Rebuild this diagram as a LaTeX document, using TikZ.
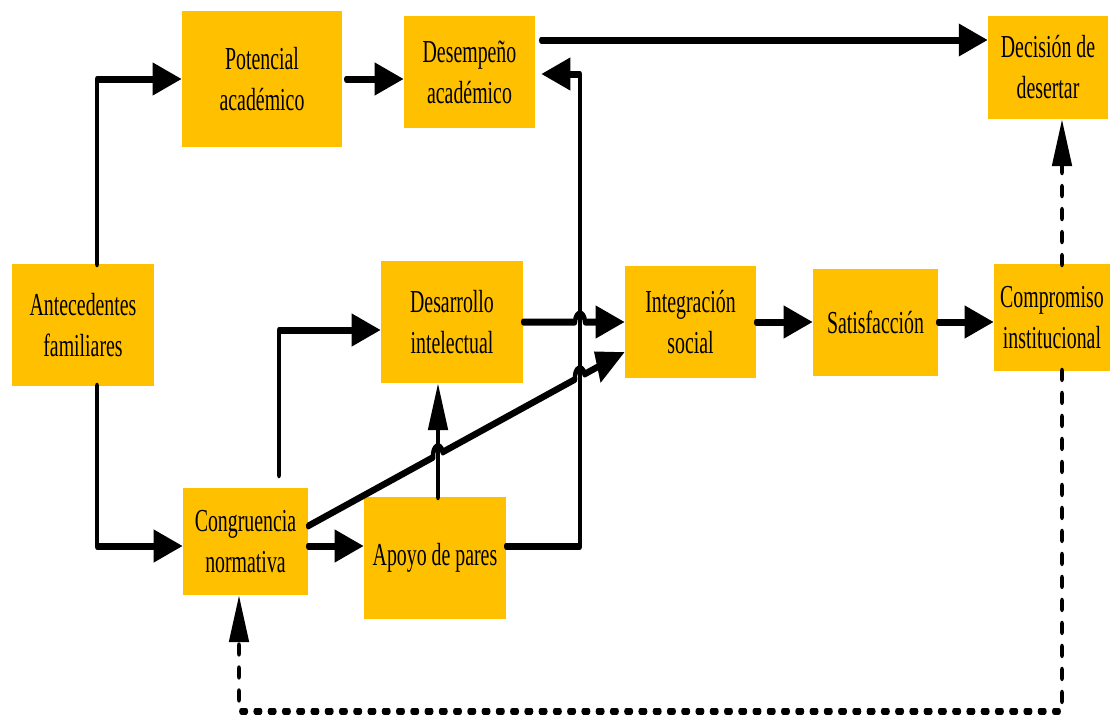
\documentclass[tikz,border=0pt]{standalone}
\usepackage{fontspec}
\setmainfont{Liberation Serif}
\usetikzlibrary{arrows.meta,calc}
\definecolor{boxgold}{RGB}{255,192,0}
\tikzset{
  box/.style={fill=boxgold, draw=none, align=center, inner sep=0pt,
              font=\fontsize{32}{41}\selectfont},
  plainline/.style={line width=7pt, line cap=round, line join=round},
  conn/.style={plainline, -{Triangle[length=47pt,width=31pt]}},
  dashconn/.style={conn, dash pattern=on 7.5pt off 15.5pt},
}
\begin{document}
\begin{tikzpicture}
\useasboundingbox (0pt,0pt) rectangle (1112pt,-715pt);
\begin{scope}[transform canvas={xscale=0.62}, x={(1.6129pt,0pt)}, y={(0pt,-1pt)}]
% boxes
\node[box, minimum width=229.0pt, minimum height=122pt] (ant) at (83,325) {Antecedentes\\familiares};
\node[box, minimum width=258.1pt, minimum height=136pt] (pot) at (262,79) {Potencial\\académico};
\node[box, minimum width=211.3pt, minimum height=112pt] (des) at (469.5,72) {Desempeño\\académico};
\node[box, minimum width=193.5pt, minimum height=103pt] (dec) at (1048,67.5) {Decisión de\\desertar};
\node[box, minimum width=229.0pt, minimum height=122pt] (dev) at (452,322) {Desarrollo\\intelectual};
\node[box, minimum width=211.3pt, minimum height=112pt] (int) at (690.5,322) {Integración\\social};
\node[box, minimum width=201.6pt, minimum height=107pt] (sat) at (875.5,322) {Satisfacción};
\node[box, minimum width=187.1pt, minimum height=107pt] (com) at (1052,317.5) {Compromiso\\institucional};
\node[box, minimum width=201.6pt, minimum height=107pt] (con) at (245.5,541.5) {Congruencia\\normativa};
\node[box, minimum width=229.0pt, minimum height=122pt] (apo) at (435,558) {Apoyo de pares};
% helper coordinates
\coordinate (xA) at (97,0);
\coordinate (y40) at (0,40);
\coordinate (y74) at (0,74);
\coordinate (x580) at (580,0);
\coordinate (y546) at (0,546);
\coordinate (x279) at (279,0);
\coordinate (y330) at (0,330);
\coordinate (x438) at (438,0);
\coordinate (x1062) at (1062,0);
\coordinate (y711) at (0,711);
\coordinate (x239) at (239,0);
\coordinate (h0) at (x580 |- dev.east);
\coordinate (ds) at ([yshift=15.5pt]con.east);
\coordinate (de) at ([yshift=-30pt]int.west);
\coordinate (cx1) at ($(ds)!0.4101!(de)$);
\coordinate (cx2) at ($(ds)!0.8580!(de)$);
% solid connectors
\draw[conn] (ant.north -| xA) |- (pot.west);
\draw[conn, shorten <=6.5pt] (pot.east) -- (pot.east -| des.west);
\draw[conn, shorten <=9.7pt] (des.east |- y40) -- (dec.west |- y40);
\draw[conn, shorten >=9.7pt] (apo.east |- y546) -| (x580 |- y74) -- (des.east |- y74);
\draw[conn] (ant.south -| xA) |- (con.west |- y546);
\draw[conn] (con.east |- y546) -- (apo.west |- y546);
\draw[conn, shorten <=13pt] (con.north -| x279) |- (dev.west |- y330);
\draw[conn] (apo.north -| x438) -- (dev.south -| x438);
\draw[conn] (dev.east) -- ([xshift=-8pt]h0) arc[start angle=180, end angle=0, radius=8pt] -- (int.west);
\draw[conn] let \p1=($(de)-(ds)$), \n1={atan2(\y1,\x1)}, \n2={\n1+180} in
  (ds) -- ($(cx1)+(\n2:8pt)$) arc[start angle=\n2, end angle=\n1, radius=8pt]
  -- ($(cx2)+(\n2:8pt)$) arc[start angle=\n2, end angle=\n1, radius=8pt] -- (de);
\draw[conn] (int.east) -- (sat.west |- int.east);
\draw[conn] (sat.east) -- (com.west |- sat.east);
% dashed connectors
\draw[dashconn] (com.south -| x1062) |- (x239 |- y711) -- (con.south -| x239);
\draw[dashconn] (com.north -| x1062) -- (dec.south -| x1062);
\end{scope}
\end{tikzpicture}
\end{document}
